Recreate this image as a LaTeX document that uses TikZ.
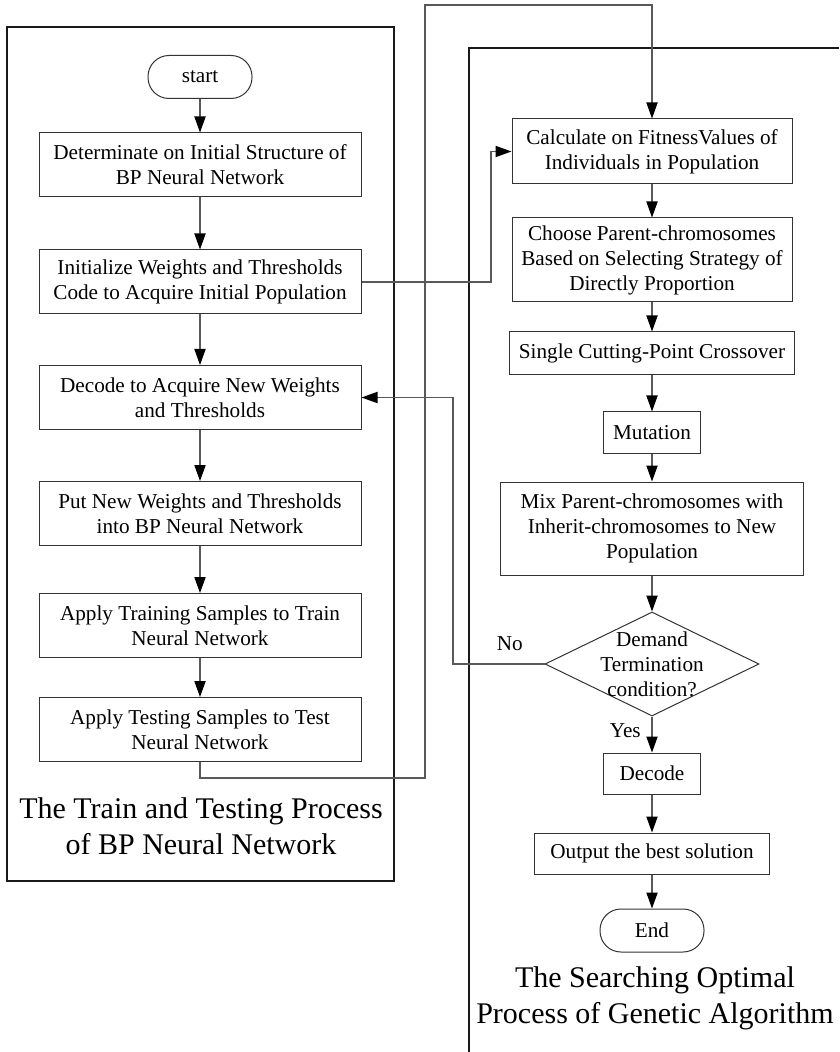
\documentclass[tikz,border=0pt]{standalone}
\usepackage{fontspec}
\setmainfont{Liberation Serif}
\usetikzlibrary{arrows.meta,shapes.geometric}
\tikzset{
  caja/.style={draw=black!80,line width=.5pt,align=center,inner sep=1pt,
    font=\fontsize{10.6}{12.5}\selectfont},
  cajaL/.style={caja,minimum width=161pt,minimum height=32pt},
  term/.style={caja,rounded corners=10.5pt,minimum width=52pt,minimum height=21.5pt},
  decision/.style={draw=black!80,line width=.5pt,diamond,inner sep=0pt,
    minimum width=107pt,minimum height=52pt},
  marco/.style={line width=1pt,draw=black!90},
  flecha/.style={draw=black!65,line width=.6pt,-{Triangle[length=8pt,width=5.6pt,color=black]}},
  titulo/.style={align=center,font=\fontsize{15}{18}\selectfont},
  etiq/.style={font=\fontsize{10.6}{12.5}\selectfont}
}
\begin{document}
\begin{tikzpicture}[x=0.5pt,y=-0.5pt]
\useasboundingbox (0,0) rectangle (839,1052);
% Marcos
\draw[marco] (7,27) rectangle (394,881);
\draw[marco] (469,1052) -- (469,48) -- (839,48);
% Red BP
\node[term] (start) at (200,77) {start};
\node[cajaL] (b1) at (200,165) {Determinate on Initial Structure of\\BP Neural Network};
\node[cajaL] (b2) at (200,282) {Initialize Weights and Thresholds\\Code to Acquire Initial Population};
\node[cajaL] (b3) at (200,397.5) {Decode to Acquire New Weights\\and Thresholds};
\node[cajaL] (b4) at (200,513.5) {Put New Weights and Thresholds\\into BP Neural Network};
\node[cajaL] (b5) at (200,625.5) {Apply Training Samples to Train\\Neural Network};
\node[cajaL] (b6) at (200,729.5) {Apply Testing Samples to Test\\Neural Network};
\node[titulo] (tbp) at (201,826) {The Train and Testing Process\\of BP Neural Network};
% Algoritmo genetico
\node[caja,minimum width=140pt,minimum height=32.5pt] (calc) at (652,151.5) {Calculate on FitnessValues of\\Individuals in Population};
\node[caja,minimum width=140pt,minimum height=42pt] (choose) at (652,260) {Choose Parent-chromosomes\\Based on Selecting Strategy of\\Directly Proportion};
\node[caja,minimum width=142.5pt,minimum height=21.5pt] (cross) at (652,353.5) {Single Cutting-Point Crossover};
\node[caja,minimum width=48.5pt,minimum height=20.5pt] (mut) at (652,432.5) {Mutation};
\node[caja,minimum width=151.5pt,minimum height=46.5pt] (mix) at (652,528.5) {Mix Parent-chromosomes with\\Inherit-chromosomes to New\\Population};
\node[decision] (demand) at (652,664) {};
\node[etiq,align=center] (dtext) at (demand) {Demand\\Termination\\condition?};
\node[caja,minimum width=48.5pt,minimum height=20.5pt] (decode) at (652,773.5) {Decode};
\node[caja,minimum width=117.5pt,minimum height=20.5pt] (output) at (652,853.5) {Output the best solution};
\node[term] (end) at (652,930.5) {End};
\node[titulo] (tga) at (655,998) {The Searching Optimal\\Process of Genetic Algorithm};
% Puntos de quiebre
\coordinate (bypass) at (425,778);
\coordinate (top) at (652,5);
\coordinate (jog) at (491,0);
\coordinate (noX) at (453,0);
% Flechas
\draw[flecha] (start) -- (b1);
\draw[flecha] (b1) -- (b2);
\draw[flecha] (b2) -- (b3);
\draw[flecha] (b3) -- (b4);
\draw[flecha] (b4) -- (b5);
\draw[flecha] (b5) -- (b6);
\draw[flecha] (b6.south) |- (bypass) |- (top) -- (calc.north);
\draw[flecha] (b2.east) -- (b2.east -| jog) |- (calc.west);
\draw[flecha] (calc) -- (choose);
\draw[flecha] (choose) -- (cross);
\draw[flecha] (cross) -- (mut);
\draw[flecha] (mut) -- (mix);
\draw[flecha] (mix) -- (demand);
\draw[flecha] (demand.west) -- node[etiq,above=3pt,pos=.38]{No} (demand.west -| noX) |- (b3.east);
\draw[flecha] (demand.south) -- node[etiq,left=2pt,pos=.4]{Yes} (decode.north);
\draw[flecha] (decode) -- (output);
\draw[flecha] (output) -- (end);
\end{tikzpicture}
\end{document}
